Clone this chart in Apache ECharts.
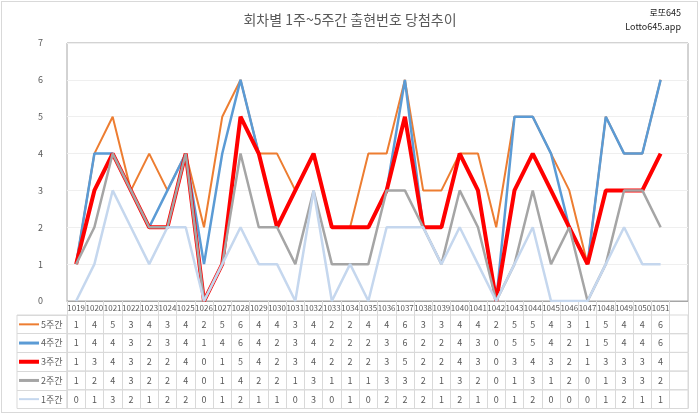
<!DOCTYPE html>
<html>
<head>
<meta charset="utf-8">
<script src="https://cdn.jsdelivr.net/npm/echarts@6/dist/echarts.min.js"></script>
<style>
html,body{margin:0;padding:0;background:#fff;}
#wrap{position:relative;width:700px;height:415px;}
#frame{position:absolute;left:1px;top:1px;width:697px;height:412px;box-sizing:border-box;border:1px solid #d9d9d9;}
#chart{position:absolute;left:0;top:0;width:700px;height:415px;}
</style>
</head>
<body>
<div id="wrap"><div id="frame"></div><div id="chart"></div></div>
<script>
const categories = ['1019','1020','1021','1022','1023','1024','1025','1026','1027','1028','1029','1030','1031','1032','1033','1034','1035','1036','1037','1038','1039','1040','1041','1042','1043','1044','1045','1046','1047','1048','1049','1050','1051'];
const week5 = [1,4,5,3,4,3,4,2,5,6,4,4,3,4,2,2,4,4,6,3,3,4,4,2,5,5,4,3,1,5,4,4,6];
const week4 = [1,4,4,3,2,3,4,1,4,6,4,2,3,4,2,2,2,3,6,2,2,4,3,0,5,5,4,2,1,5,4,4,6];
const week3 = [1,3,4,3,2,2,4,0,1,5,4,2,3,4,2,2,2,3,5,2,2,4,3,0,3,4,3,2,1,3,3,3,4];
const week2 = [1,2,4,3,2,2,4,0,1,4,2,2,1,3,1,1,1,3,3,2,1,3,2,0,1,3,1,2,0,1,3,3,2];
const week1 = [0,1,3,2,1,2,2,0,1,2,1,1,0,3,0,1,0,2,2,2,1,2,1,0,1,2,0,0,0,1,2,1,1];
const seriesNames = ['5주간','4주간','3주간','2주간','1주간'];
const yTicks = [0,1,2,3,4,5,6,7];

const rows = [week5, week4, week3, week2, week1];
const colors = ['#ED7D31','#5B9BD5','#FF0000','#A5A5A5','#C5D7EE'];
const widths = [2, 2.5, 4, 2.5, 2.5];
const keyThick = [2, 3, 4, 3, 2];

const FONT = '"Noto Sans CJK KR", "Noto Sans", sans-serif';
const TXT = '#595959';
const GRIDC = '#d9d9d9';
const axisCats = categories.concat(['']);

const L = 67, R = 12, PLOT_TOP = 43, PLOT_BOTTOM = 301, TABLE_TOP = 315, ROW_H = 18.7;

const grids = [{left: L, right: R, top: PLOT_TOP, height: PLOT_BOTTOM - PLOT_TOP, show: true, borderColor: '#a6a6a6', borderWidth: 1}];
const xAxes = [{
  gridIndex: 0, type: 'category', data: axisCats, boundaryGap: true,
  axisLine: {lineStyle: {color: '#a6a6a6'}},
  axisTick: {show: true, interval: 0, length: TABLE_TOP - PLOT_BOTTOM, lineStyle: {color: GRIDC}},
  axisLabel: {interval: 0, fontSize: 8, margin: 3, color: TXT, fontFamily: FONT},
  splitLine: {show: false}
}];
const yAxes = [{
  gridIndex: 0, type: 'value', min: yTicks[0], max: yTicks[yTicks.length - 1], interval: 1,
  axisLine: {show: false}, axisTick: {show: false},
  axisLabel: {fontSize: 9, color: TXT, margin: 24, fontFamily: FONT},
  splitLine: {lineStyle: {color: '#efefef'}}
}];

rows.forEach((vals, i) => {
  const gi = i + 1;
  grids.push({left: L, right: R, top: TABLE_TOP + i * ROW_H, height: ROW_H, show: true, borderColor: GRIDC, borderWidth: 1});
  xAxes.push({
    gridIndex: gi, type: 'category', data: axisCats, boundaryGap: true, position: 'bottom',
    axisLine: {show: false}, axisTick: {show: false},
    axisLabel: {interval: 0, inside: true, margin: ROW_H / 2, verticalAlign: 'middle', fontSize: 9, color: TXT, fontFamily: FONT,
      formatter: (v, idx) => (vals[idx] === undefined ? '' : String(vals[idx]))},
    splitLine: {show: true, interval: 0, lineStyle: {color: GRIDC}}
  });
  yAxes.push({gridIndex: gi, type: 'value', show: false});
});

// name column of the data table
grids.push({left: 17, width: L - 17, top: TABLE_TOP, height: ROW_H * rows.length, show: true, borderColor: GRIDC, borderWidth: 1});
xAxes.push({gridIndex: 6, type: 'value', show: false});
yAxes.push({gridIndex: 6, type: 'category', data: seriesNames, inverse: true,
  axisLine: {show: false}, axisTick: {show: false}, axisLabel: {show: false},
  splitLine: {show: true, interval: 0, lineStyle: {color: GRIDC}}});

const legends = seriesNames.map((n, i) => ({
  data: [n], orient: 'horizontal', left: 19, top: TABLE_TOP + ROW_H * (i + 0.5) - 6,
  padding: 0, icon: 'rect', itemWidth: 20, itemHeight: keyThick[i], itemGap: 0, selectedMode: false,
  textStyle: {fontSize: 9, color: TXT, lineHeight: 12, fontFamily: FONT, padding: [0, 0, 0, -3]}
}));

const series = rows.map((vals, i) => ({
  name: seriesNames[i], type: 'line', xAxisIndex: 0, yAxisIndex: 0,
  data: vals, symbol: 'none', color: colors[i],
  lineStyle: {width: widths[i], color: colors[i]}, animation: false
}));

const chart = echarts.init(document.getElementById('chart'), null, {renderer: 'canvas'});
chart.setOption({
  animation: false,
  textStyle: {fontFamily: FONT},
  title: [
    {text: '회차별 1주~5주간 출현번호 당첨추이', left: 'center', top: 8,
      textStyle: {fontSize: 14, fontWeight: 'normal', color: TXT, fontFamily: FONT}},
    {text: '로또645', right: 19, top: 8, padding: 0,
      textStyle: {fontSize: 9, fontWeight: 'normal', color: '#222', fontFamily: FONT}},
    {text: 'Lotto645.app', right: 19, top: 22, padding: 0,
      textStyle: {fontSize: 9, fontWeight: 'normal', color: '#222', fontFamily: FONT}}
  ],
  legend: legends,
  grid: grids,
  xAxis: xAxes,
  yAxis: yAxes,
  series: series
});
</script>
</body>
</html>
